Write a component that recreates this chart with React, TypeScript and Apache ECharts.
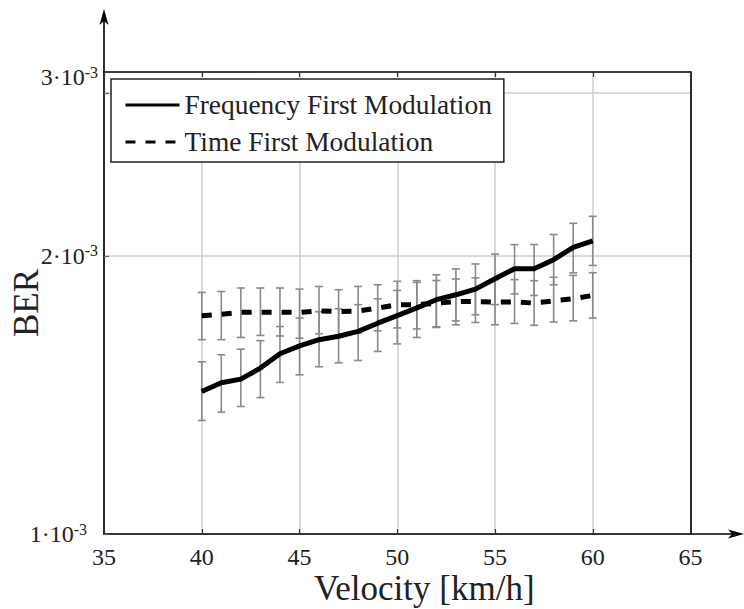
import React, { useEffect, useRef } from 'react';
import * as echarts from 'echarts';

// ---- data (BER values) ----
const velocity = [40, 41, 42, 43, 44, 45, 46, 47, 48, 49, 50, 51, 52, 53, 54, 55, 56, 57, 58, 59, 60];

const freqFirst = [1.426e-3, 1.458e-3, 1.471e-3, 1.512e-3, 1.567e-3, 1.598e-3, 1.623e-3, 1.637e-3, 1.657e-3, 1.691e-3, 1.723e-3, 1.757e-3, 1.793e-3, 1.815e-3, 1.841e-3, 1.889e-3, 1.937e-3, 1.937e-3, 1.981e-3, 2.043e-3, 2.076e-3];
const freqHigh = [1.536e-3, 1.563e-3, 1.585e-3, 1.619e-3, 1.677e-3, 1.713e-3, 1.740e-3, 1.753e-3, 1.771e-3, 1.797e-3, 1.835e-3, 1.880e-3, 1.908e-3, 1.936e-3, 1.960e-3, 2.009e-3, 2.057e-3, 2.057e-3, 2.109e-3, 2.169e-3, 2.207e-3];
const freqLow = [1.327e-3, 1.355e-3, 1.374e-3, 1.405e-3, 1.459e-3, 1.487e-3, 1.517e-3, 1.532e-3, 1.541e-3, 1.576e-3, 1.606e-3, 1.632e-3, 1.673e-3, 1.701e-3, 1.727e-3, 1.771e-3, 1.819e-3, 1.812e-3, 1.861e-3, 1.917e-3, 1.953e-3];

const timeFirst = [1.723e-3, 1.729e-3, 1.738e-3, 1.738e-3, 1.738e-3, 1.737e-3, 1.744e-3, 1.741e-3, 1.743e-3, 1.756e-3, 1.771e-3, 1.771e-3, 1.777e-3, 1.785e-3, 1.785e-3, 1.782e-3, 1.783e-3, 1.778e-3, 1.788e-3, 1.797e-3, 1.812e-3];
const timeHigh = [1.826e-3, 1.830e-3, 1.846e-3, 1.846e-3, 1.846e-3, 1.841e-3, 1.853e-3, 1.838e-3, 1.853e-3, 1.861e-3, 1.877e-3, 1.872e-3, 1.881e-3, 1.888e-3, 1.893e-3, 1.885e-3, 1.885e-3, 1.880e-3, 1.896e-3, 1.905e-3, 1.918e-3];
const timeLow = [1.623e-3, 1.623e-3, 1.632e-3, 1.640e-3, 1.638e-3, 1.629e-3, 1.647e-3, 1.636e-3, 1.650e-3, 1.659e-3, 1.671e-3, 1.667e-3, 1.676e-3, 1.684e-3, 1.694e-3, 1.684e-3, 1.690e-3, 1.682e-3, 1.696e-3, 1.701e-3, 1.713e-3];

const seriesNames = ['Frequency First Modulation', 'Time First Modulation'];
const xMin = 35;
const xMax = 65;
const xInterval = 5;
const yMin = 1e-3;
const yMax = 3.1623e-3;
const yGridValues = [1e-3, 2e-3, 3e-3];
const yLabelValues = [1e-3, 2e-3, 3.12e-3];
const yLabelMantissa = ['1', '2', '3'];
const yLabelExponent = '-3';

const FONT = 'Liberation Serif';

// layout
const GL = 104;
const GR = 690.5;
const GT = 72;
const GB = 534;
const W = 744;
const H = 609;

export default function App() {
  const ref = useRef<HTMLDivElement>(null);

  useEffect(() => {
    if (!ref.current) return;
    const chart = echarts.init(ref.current, undefined, { renderer: 'svg' });

    const pairs = (ys: number[]) => velocity.map((v, i) => [v, ys[i]]);
    const bars = (lo: number[], hi: number[]) => velocity.map((v, i) => [v, lo[i], hi[i]]);

    const errRender = (params: any, api: any) => {
      const x = api.value(0);
      const lo = api.value(1);
      const hi = api.value(2);
      const pHi = api.coord([x, hi]);
      const pLo = api.coord([x, lo]);
      const w = 4;
      const st = { stroke: '#8a8a8a', lineWidth: 1.6 };
      return {
        type: 'group',
        children: [
          { type: 'line', shape: { x1: pHi[0], y1: pHi[1], x2: pLo[0], y2: pLo[1] }, style: st },
          { type: 'line', shape: { x1: pHi[0] - w, y1: pHi[1], x2: pHi[0] + w, y2: pHi[1] }, style: st },
          { type: 'line', shape: { x1: pLo[0] - w, y1: pLo[1], x2: pLo[0] + w, y2: pLo[1] }, style: st },
        ],
      };
    };

    const labelFormatter = (value: number) => {
      let idx = 0;
      let best = Infinity;
      yLabelValues.forEach((v, i) => {
        const d = Math.abs(Math.log(v) - Math.log(value));
        if (d < best) { best = d; idx = i; }
      });
      if (idx === 0) return `{m|${yLabelMantissa[idx]}·10}{s1|${yLabelExponent}}`;
      return `{m|${yLabelMantissa[idx]}·10}{s|${yLabelExponent}}`;
    };

    const option: any = {
      animation: false,
      backgroundColor: '#ffffff',
      grid: { left: GL, right: W - GR, top: GT, bottom: H - GB, containLabel: false, outerBoundsMode: 'none' },
      legend: {
        data: seriesNames,
        orient: 'vertical',
        left: 111,
        top: 79,
        padding: [11, 12, 5, 13],
        itemWidth: 54,
        itemHeight: 30,
        itemGap: 7,
        borderColor: '#222',
        borderWidth: 1.5,
        backgroundColor: '#fff',
        itemStyle: { opacity: 0 },
        lineStyle: { width: 3 },
        textStyle: { fontFamily: FONT, fontSize: 27.4, color: '#222', lineHeight: 30 },
      },
      xAxis: [
        {
          type: 'value',
          min: xMin,
          max: xMax,
          interval: xInterval,
          position: 'bottom',
          name: 'Velocity [km/h]',
          nameLocation: 'middle',
          nameGap: 37,
          nameMoveOverlap: false,
          nameTextStyle: { fontFamily: FONT, fontSize: 35, lineHeight: 34, color: '#222', padding: [0, 0, 0, 54] },
          axisLine: { show: true, lineStyle: { color: '#000', width: 1.6 } },
          axisTick: { show: true, inside: true, length: 5, lineStyle: { color: '#333', width: 1.2 } },
          axisLabel: { fontFamily: FONT, fontSize: 24, color: '#222', margin: 11 },
          splitLine: { show: true, lineStyle: { color: '#cfcfcf', width: 1.5 } },
        },
        {
          type: 'value',
          min: xMin,
          max: xMax,
          interval: xInterval,
          position: 'top',
          axisLine: { show: true, lineStyle: { color: '#000', width: 1.6 } },
          axisTick: { show: true, inside: true, length: 5, lineStyle: { color: '#333', width: 1.2 } },
          axisLabel: { show: false },
          splitLine: { show: false },
        },
      ],
      yAxis: [
        {
          type: 'log',
          logBase: 10,
          min: yMin,
          max: yMax,
          position: 'left',
          name: 'BER',
          nameLocation: 'middle',
          nameGap: 60,
          nameMoveOverlap: false,
          nameTextStyle: { fontFamily: FONT, fontSize: 35, color: '#222' },
          axisLine: { show: true, lineStyle: { color: '#000', width: 1.6 } },
          axisTick: { show: true, inside: true, length: 5, customValues: yGridValues, lineStyle: { color: '#666', width: 1.2 } },
          axisLabel: {
            customValues: yLabelValues,
            formatter: labelFormatter,
            margin: 6,
            color: '#222',
            fontFamily: FONT,
            rich: {
              m: { fontFamily: FONT, fontSize: 24, color: '#222', lineHeight: 26 },
              s: { fontFamily: FONT, fontSize: 16, color: '#222', verticalAlign: 'top', lineHeight: 16 },
              s1: { fontFamily: FONT, fontSize: 16, color: '#222', verticalAlign: 'top', lineHeight: 16, padding: [0, 11, 0, 0] },
            },
          },
          splitLine: { show: true, lineStyle: { color: '#cfcfcf', width: 1.5 } },
          minorTick: { show: false },
          minorSplitLine: { show: false },
        },
        {
          type: 'log',
          logBase: 10,
          min: yMin,
          max: yMax,
          position: 'right',
          axisLine: { show: true, lineStyle: { color: '#000', width: 1.6 } },
          axisTick: { show: false },
          axisLabel: { show: false },
          splitLine: { show: false },
        },
      ],
      series: [
        {
          name: 'freqErr',
          type: 'custom',
          xAxisIndex: 0,
          yAxisIndex: 0,
          renderItem: errRender,
          encode: { x: 0, y: [1, 2] },
          data: bars(freqLow, freqHigh),
          z: 3,
          silent: true,
        },
        {
          name: 'timeErr',
          type: 'custom',
          xAxisIndex: 0,
          yAxisIndex: 0,
          renderItem: errRender,
          encode: { x: 0, y: [1, 2] },
          data: bars(timeLow, timeHigh),
          z: 3,
          silent: true,
        },
        {
          name: seriesNames[0],
          type: 'line',
          xAxisIndex: 0,
          yAxisIndex: 0,
          data: pairs(freqFirst),
          symbol: 'none',
          showSymbol: false,
          color: '#000',
          lineStyle: { color: '#000', width: 5, cap: 'butt', join: 'round' },
          z: 4,
        },
        {
          name: seriesNames[1],
          type: 'line',
          xAxisIndex: 0,
          yAxisIndex: 0,
          data: pairs(timeFirst),
          symbol: 'none',
          showSymbol: false,
          color: '#000',
          lineStyle: { color: '#000', width: 5, type: [10, 10], cap: 'butt', join: 'round' },
          z: 4,
        },
      ],
      graphic: [
        // y-axis extension with arrow
        { type: 'line', shape: { x1: GL, y1: GT, x2: GL, y2: 20 }, style: { stroke: '#000', lineWidth: 1.6 }, z: 10 },
        { type: 'polygon', shape: { points: [[GL, 9], [GL - 4.5, 25], [GL, 21], [GL + 4.5, 25]] }, style: { fill: '#000' }, z: 10 },
        // x-axis extension with arrow
        { type: 'line', shape: { x1: GR, y1: GB, x2: 734, y2: GB }, style: { stroke: '#000', lineWidth: 1.6 }, z: 10 },
        { type: 'polygon', shape: { points: [[744, GB], [728, GB - 4.5], [732, GB], [728, GB + 4.5]] }, style: { fill: '#000' }, z: 10 },
      ],
    };

    chart.setOption(option);
    return () => chart.dispose();
  }, []);

  return (
    <div
      ref={ref}
      style={{ position: 'fixed', left: 0, top: 0, width: W, height: H, background: '#fff' }}
    />
  );
}
